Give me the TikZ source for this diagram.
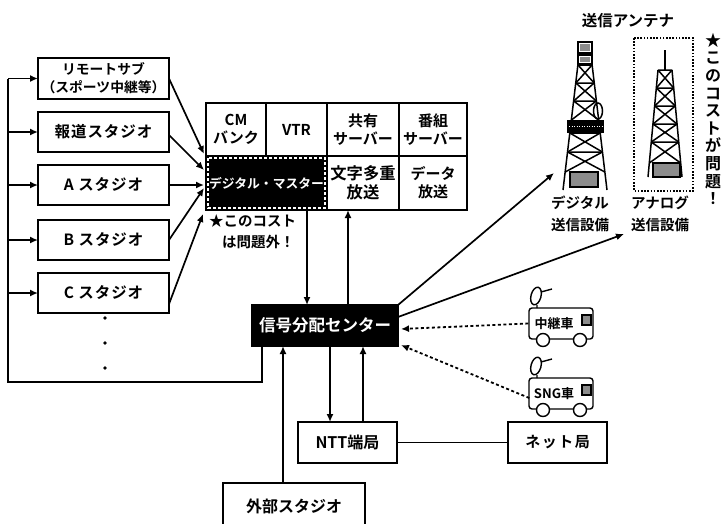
\documentclass[tikz,border=0pt]{standalone}
\usepackage{fontspec}
\setmainfont{Noto Sans CJK JP}[UprightFont=* Bold]
\newfontfamily\jpwide{Noto Sans CJK JP}[UprightFont=* Bold,LetterSpace=6]
\newfontfamily\jpwider{Noto Sans CJK JP}[UprightFont=* Bold,LetterSpace=10]
\usetikzlibrary{arrows.meta,calc}

\begin{document}
\begin{tikzpicture}[x=1pt,y=-1pt,
  ln/.style={line width=1.7pt},
  arr/.style={line width=1.7pt, -{Latex[length=8pt,width=7pt]}},
  darr/.style={line width=1.8pt, dash pattern=on 3pt off 2.5pt, -{Latex[length=8pt,width=7pt]}},
  box/.style={draw, line width=1.4pt, inner sep=0pt, outer sep=0pt, align=center,
    font=\fontsize{16}{18}\selectfont},
  lbox/.style={box, minimum width=131pt, minimum height=40pt, font=\fontsize{15.5}{18}\selectfont},
  cell/.style={box, font=\fontsize{15}{18}\selectfont},
  tw/.style={line width=1.5pt},
  hatch/.style={fill=black!45},
  lbl/.style={inner sep=0pt, font=\fontsize{14.5}{21.5}\selectfont, align=center}]

\useasboundingbox (0,0) rectangle (723,523);
\clip (0,0) rectangle (723,523);

% studios on the left
\node[lbox, minimum height=41pt, font=\fontsize{13.8}{18}\selectfont] (rs) at (103.5,78.5) {リモートサブ\\（スポーツ中継等）};
\node[lbox] (hd) at (103.5,132) {\jpwide 報道スタジオ};
\node[lbox] (sa) at (103.5,185) {\jpwide A スタジオ};
\node[lbox] (sb) at (103.5,240) {\jpwide B スタジオ};
\node[lbox] (sc) at (103.5,293) {\jpwide C スタジオ};
\fill (105,318) circle (1.8pt) (105,343) circle (1.8pt) (105,368) circle (1.8pt);

% master control block
\node[cell, minimum width=60pt, minimum height=53pt] (cm) at (236,129.5) {CM\\バンク};
\node[cell, minimum width=61pt, minimum height=53pt] (vtr) at (296.5,129.5) {VTR};
\node[cell, minimum width=72pt, minimum height=53pt] (shr) at (363,129.5) {共有\\サーバー};
\node[cell, minimum width=68pt, minimum height=53pt] (prg) at (433,129.5) {番組\\サーバー};
\node[cell, fill=black, text=white, minimum width=121pt, minimum height=54pt,
  font=\fontsize{12.8}{15}\selectfont] (mas) at (266.5,183) {デジタル・マスター};
\draw[white, line width=1.3pt, dash pattern=on 3pt off 2pt]
  ($(mas.north west)+(2,2)$) rectangle ($(mas.south east)+(-2,-2)$);
\node[cell, minimum width=72pt, minimum height=54pt, font=\fontsize{16.3}{19}\selectfont] (moji) at (363,183) {文字多重\\放送};
\node[cell, minimum width=68pt, minimum height=54pt] (dat) at (433,183) {データ\\放送};

\node[anchor=north west, align=left, inner sep=0pt, font=\fontsize{14.5}{21}\selectfont] (note)
  at (209,214) {★このコスト\\\hspace*{13pt}は問題外！};

% signal distribution center
\node[box, fill=black, text=white, minimum width=146pt, minimum height=41pt,
  font=\fontsize{16.5}{18}\selectfont] (sdc) at (325,325.5) {信号分配センター};

% lower offices
\node[box, minimum width=99pt, minimum height=41pt] (ntt) at (347.5,442.5) {NTT端局};
\node[box, minimum width=99pt, minimum height=41pt, font=\fontsize{15}{18}\selectfont] (net) at (557.5,442.5) {\jpwider ネット局};
\node[box, minimum width=142pt, minimum height=46pt] (ext) at (294,506) {外部スタジオ};

% return bus on the left
\coordinate (b0) at (8,382);
\coordinate (b1) at (8,78.5);
\coordinate (b2) at (8,132);
\coordinate (b3) at (8,185);
\coordinate (b4) at (8,240);
\coordinate (b5) at (8,293);
\draw[ln] ($(sdc.south west)+(10,0)$) |- (b0) -- (b1);
\draw[arr] (b1) -- (rs);
\draw[arr] (b2) -- (hd);
\draw[arr] (b3) -- (sa);
\draw[arr] (b4) -- (sb);
\draw[arr] (b5) -- (sc);

% studios into the master
\draw[arr] (rs.east) -- ($(mas.north west)+(-2,-2)$);
\draw[arr] ($(hd.east)+(0,3)$) -- ($(mas.west)+(-2,-13)$);
\draw[arr] (sa) -- ($(mas.west)+(-2,2)$);
\draw[arr] (sb.east) -- ($(mas.west)+(-2,5)$);
\draw[arr] ($(sc.east)+(0,11)$) -- ($(mas.south west)+(-3,4)$);

% vertical links
\coordinate (x283) at (283,0);
\coordinate (x307) at (307,0);
\coordinate (x330) at (330,0);
\coordinate (x348) at (348,0);
\coordinate (x363) at (363,0);
\draw[arr] (mas.south -| x307) -- (sdc.north -| x307);
\draw[arr] (sdc.north -| x348) -- (moji.south -| x348);
\draw[arr] (sdc.south -| x330) -- (ntt.north -| x330);
\draw[arr] (ntt.north -| x363) -- (sdc.south -| x363);
\draw[arr] (ext.north -| x283) -- (sdc.south -| x283);
\draw[ln] (ntt) -- (net);

% links to the transmitters
\coordinate (dt) at (554,173);
\coordinate (at) at (624,234);
\draw[arr] (sdc.north east) -- (dt);
\draw[arr] ($(sdc.north east)+(0,12)$) -- (at);

% outside broadcast van
\node[draw, line width=1.4pt, minimum width=64pt, minimum height=31pt, rounded corners=3pt] (v1) at (561,323.5) {};
\node[inner sep=0pt, font=\fontsize{13}{14}\selectfont] (v1t) at (554,323.5) {中継車};
\draw[line width=1.1pt, hatch] (582,315) rectangle (591,325);
\draw[line width=1.4pt, fill=white] (543,340) circle (6.5pt) (580,340) circle (6.5pt);
\draw[line width=1.4pt, rotate around={-15:(536,296)}] (536,296) ellipse [x radius=5pt, y radius=9pt];
\draw[line width=1.4pt] (537,305) -- (537,308) (541,292) -- (552,289);

% SNG van
\node[draw, line width=1.4pt, minimum width=64pt, minimum height=31pt, rounded corners=3pt] (v2) at (561,393.5) {};
\node[inner sep=0pt, font=\fontsize{13}{14}\selectfont] (v2t) at (554,393.5) {SNG車};
\draw[line width=1.1pt, hatch] (582,385) rectangle (591,395);
\draw[line width=1.4pt, fill=white] (543,410) circle (6.5pt) (580,410) circle (6.5pt);
\draw[line width=1.4pt, rotate around={-15:(536,366)}] (536,366) ellipse [x radius=5pt, y radius=9pt];
\draw[line width=1.4pt] (537,375) -- (537,378) (541,362) -- (552,359);

\draw[darr] (v1.west) -- ($(sdc.east)+(3,3.5)$);
\draw[darr] ($(v2.west)+(1,4.5)$) -- ($(sdc.south east)+(3,-1)$);

% transmitters
\node[lbl, font=\fontsize{15.5}{18}\selectfont] (ttl) at (628,21) {送信アンテナ};

% digital tower
\draw[tw, fill=white] (578,42) rectangle (592,53);
\fill[black!45] (580,44) rectangle (590,51);
\draw[tw, fill=white] (578,55) rectangle (592,64);
\fill[black!45] (580,57) rectangle (590,62);
\draw[tw] (578,64) -- (563,190) (592,64) -- (607,190);
\foreach \ya/\la/\ra/\yb/\lb/\rb in {
  65/578/592/83/575.84/594.16,
  83/575.84/594.16/101/573.68/596.32,
  101/573.68/596.32/120/571.4/598.6,
  133/569.84/600.16/152/567.56/602.44,
  152/567.56/602.44/172/565.16/604.84}
  \draw[tw] (\la,\ya) -- (\ra,\ya) (\la,\ya) -- (\rb,\yb) (\ra,\ya) -- (\lb,\yb);
\fill (567,120) rectangle (604,133);
\draw[white, line width=0.8pt, dash pattern=on 1pt off 1.5pt] (569,126.5) -- (602,126.5);
\draw[tw] (598,111) ellipse [x radius=4.5pt, y radius=8pt];
\draw[tw, hatch] (570,172) rectangle (598,187);
\node[lbl] (dlab) at (580,214) {デジタル\\送信設備};

% analogue tower
\draw[line width=1.5pt, dash pattern=on 1.6pt off 1.6pt] (634,38) rectangle (693,191);
\draw[line width=2.6pt] (665,50) -- (665,70);
\draw[tw] (658,70) -- (648,177) (672,70) -- (682,177);
\foreach \ya/\la/\ra/\yb/\lb/\rb in {
  70/658/672/88/656.32/673.68,
  88/656.32/673.68/106/654.64/675.36,
  106/654.64/675.36/124/652.95/677.05,
  124/652.95/677.05/142/651.27/678.73,
  142/651.27/678.73/163/649.31/680.69}
  \draw[tw] (\la,\ya) -- (\ra,\ya) (\la,\ya) -- (\rb,\yb) (\ra,\ya) -- (\lb,\yb);
\draw[tw, hatch] (653,163) rectangle (680,177);
\node[lbl] (alab) at (660,214) {アナログ\\送信設備};

% vertical remark
\node[inner sep=0pt, align=center, font=\fontsize{16}{17.6}\selectfont] (vnote) at (713,119)
  {★\\こ\\の\\コ\\ス\\ト\\が\\問\\題\\！};

\end{tikzpicture}
\end{document}
